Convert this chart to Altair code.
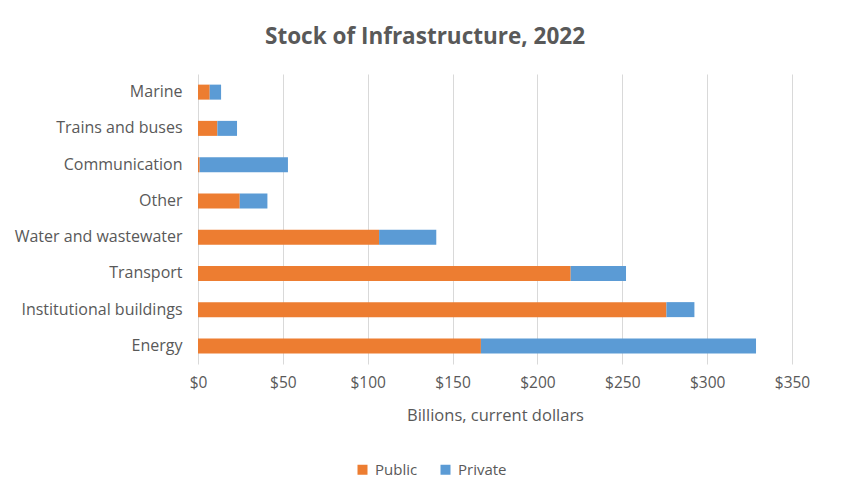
import altair as alt
import pandas as pd

categories = ["Marine", "Trains and buses", "Communication", "Other",
              "Water and wastewater", "Transport", "Institutional buildings", "Energy"]
public = [6.9, 11.4, 1.0, 24.6, 106.7, 219.6, 276.0, 166.7]
private = [6.7, 11.6, 52.0, 16.3, 33.7, 32.6, 16.5, 162.1]
series = ["Public", "Private"]
colors = ["#ED7D31", "#5B9BD5"]
ticks = [0, 50, 100, 150, 200, 250, 300, 350]

rows = []
for c, pu, pr in zip(categories, public, private):
    rows.append({"category": c, "series": "Public", "value": pu, "ord": 0})
    rows.append({"category": c, "series": "Private", "value": pr, "ord": 1})
df = pd.DataFrame(rows)

FONT = "Open Sans"
TXT = "#595959"

chart = alt.Chart(df).mark_bar(size=15).encode(
    y=alt.Y("category:N", sort=categories, title=None,
            axis=alt.Axis(ticks=False, domain=False, labelPadding=16,
                          labelFontSize=16, labelColor=TXT, labelFont=FONT,
                          grid=False)),
    x=alt.X("value:Q", stack="zero",
            scale=alt.Scale(domain=[0, 350], nice=False),
            title="Billions, current dollars",
            axis=alt.Axis(values=ticks, labelExpr="'$' + datum.value",
                          ticks=False, domain=False, grid=True, labelFlush=False,
                          gridColor="#D9D9D9", gridWidth=1,
                          labelPadding=11, labelFontSize=15.5, labelColor=TXT,
                          labelFont=FONT, titleFont=FONT, titleFontSize=16.5,
                          titleColor=TXT, titleFontWeight="normal",
                          titlePadding=17)),
    color=alt.Color("series:N", sort=series,
                    scale=alt.Scale(domain=series, range=colors),
                    legend=alt.Legend(title=None, orient="none", direction="horizontal",
                                      legendX=157, legendY=388,
                                      symbolType="square", symbolSize=100,
                                      symbolStrokeWidth=0,
                                      labelFontSize=15, labelColor=TXT, labelFont=FONT,
                                      columnPadding=20, labelOffset=5)),
    order=alt.Order("ord:Q"),
).properties(
    width=594,
    height=290,
    autosize=alt.AutoSizeParams(type="none"),
    padding={"left": 190, "top": 66, "right": 50, "bottom": 127},
    title=alt.TitleParams("Stock of Infrastructure, 2022", font=FONT, fontSize=22.5,
                          fontWeight="bold", color=TXT, anchor="middle",
                          dx=-70, offset=26),
).configure_view(stroke=None)

chart.save("out.html", embed_options={"renderer": "svg", "actions": False})
